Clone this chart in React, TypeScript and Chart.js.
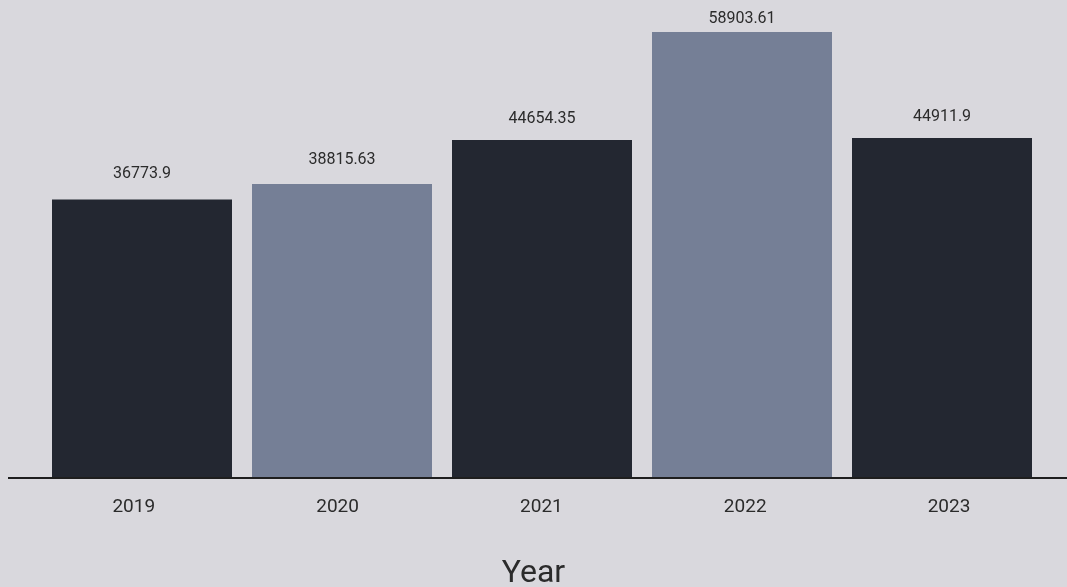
import React, { useEffect, useRef } from "react";
import { Chart, registerables } from "chart.js";

Chart.register(...registerables);

const years = ["2019", "2020", "2021", "2022", "2023"];
const values = [36773.9, 38815.63, 44654.35, 58903.61, 44911.9];
const barColors = ["#232731", "#757f96", "#232731", "#757f96", "#232731"];

const BG = "#d9d8dd";
const TEXT = "#2b2b2b";
const FONT = "Roboto";

const valueLabels = {
  id: "valueLabels",
  afterDatasetsDraw(chart: any) {
    const ctx = chart.ctx;
    const meta = chart.getDatasetMeta(0);
    const ys = chart.scales.yLabel;
    ctx.save();
    ctx.font = `16px ${FONT}`;
    ctx.fillStyle = TEXT;
    ctx.textAlign = "center";
    ctx.textBaseline = "middle";
    meta.data.forEach((bar: any, i: number) => {
      ctx.fillText(String(values[i]), bar.x, ys.getPixelForValue(values[i]));
    });
    ctx.restore();
  },
};

const baseline = {
  id: "baseline",
  afterDatasetsDraw(chart: any) {
    const ctx = chart.ctx;
    const y = chart.scales.y.getPixelForValue(0);
    ctx.save();
    ctx.strokeStyle = "#1e1e1e";
    ctx.lineWidth = 2;
    ctx.beginPath();
    ctx.moveTo(8, y);
    ctx.lineTo(chart.width, y);
    ctx.stroke();
    ctx.restore();
  },
};

export default function App() {
  const ref = useRef<HTMLCanvasElement>(null);
  useEffect(() => {
    document.body.style.margin = "0";
    document.body.style.background = BG;
    const chart = new Chart(ref.current!, {
      type: "bar",
      data: {
        datasets: [
          {
            data: values.map((v, i) => ({ x: i, y: v })),
            backgroundColor: barColors,
            borderWidth: 0,
            categoryPercentage: 1,
            barPercentage: 0.9,
          },
        ],
      },
      options: {
        responsive: false,
        animation: false,
        layout: { padding: { left: 0, right: 0, top: 32, bottom: 0 } },
        plugins: {
          legend: { display: false },
          tooltip: { enabled: false },
          title: {
            display: true,
            position: "bottom",
            text: "Year",
            color: TEXT,
            font: { family: FONT, size: 32, weight: "normal", lineHeight: 1 },
            padding: { top: 0, bottom: -3 },
          },
        },
        scales: {
          x: {
            type: "linear",
            display: false,
            offset: false,
            min: -0.71,
            max: 4.625,
            afterBuildTicks: (scale: any) => {
              scale.ticks = years.map((_, i) => ({ value: i }));
            },
          },
          xLabel: {
            type: "linear",
            position: "bottom",
            offset: false,
            min: -0.6565,
            max: 4.579,
            grid: { display: false, drawTicks: false, offset: false },
            border: { display: false },
            afterBuildTicks: (scale: any) => {
              scale.ticks = years.map((_, i) => ({ value: i }));
            },
            afterFit: (scale: any) => {
              scale.height = 80;
            },
            ticks: {
              padding: 18,
              color: TEXT,
              font: { family: FONT, size: 19 },
              maxRotation: 0,
              autoSkip: false,
              callback: (v: any) => years[v] ?? "",
            },
          },
          y: {
            display: false,
            min: 0,
            max: Math.max(...values),
          },
          yLabel: {
            display: false,
            min: -6620,
            max: 57013,
          },
        },
      },
      plugins: [valueLabels, baseline],
    });
    return () => chart.destroy();
  }, []);
  return (
    <div style={{ width: 1067, height: 587, background: BG }}>
      <canvas ref={ref} width={1067} height={587} />
    </div>
  );
}
